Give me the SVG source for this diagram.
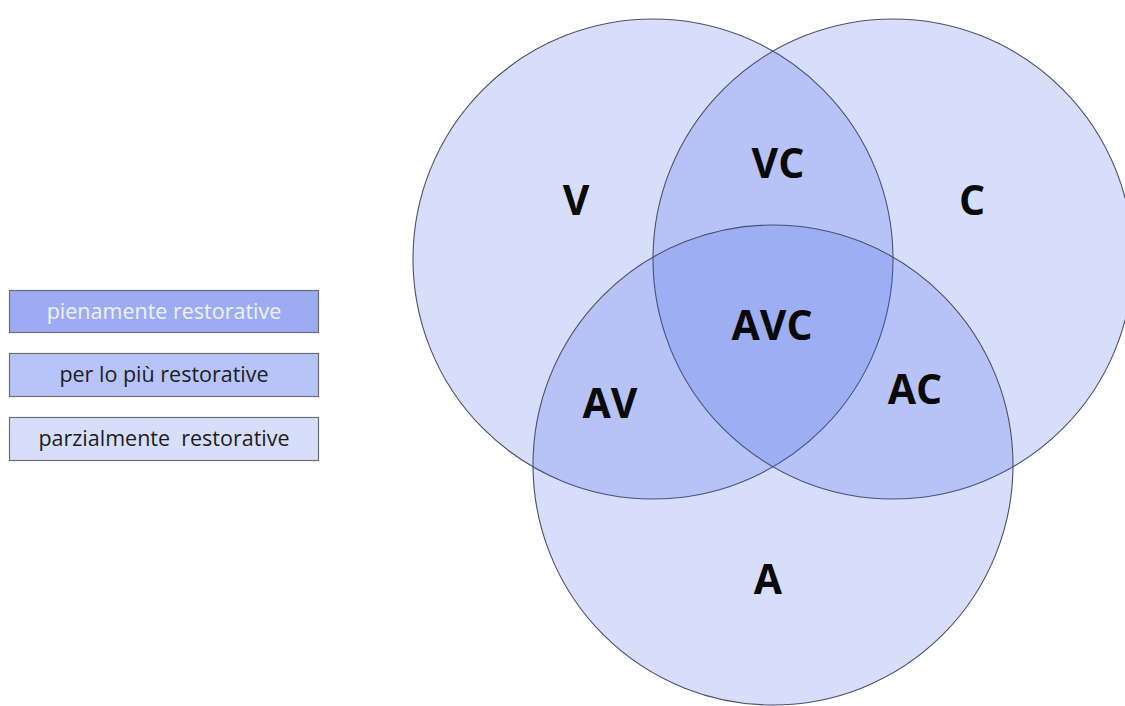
<svg xmlns="http://www.w3.org/2000/svg" width="1125" height="706" viewBox="0 0 1125 706">
  <style>
    .set { fill: #375ae6; fill-opacity: 0.2; stroke: #4a5068; stroke-width: 1.1; }
    .lbl { font-family: "Open Sans", "DejaVu Sans", sans-serif; font-weight: bold; font-size: 41px; fill: #0a0a0a; text-anchor: middle; }
    .key rect { stroke: #6a6d78; stroke-width: 1.2; }
    .key text { font-family: "Open Sans", "DejaVu Sans", sans-serif; font-size: 21.5px; text-anchor: middle; white-space: pre; }
  </style>
  <rect width="1125" height="706" fill="#ffffff"/>

  <!-- legend: shade levels -->
  <g id="legend-full" class="key">
    <rect x="9.5" y="290.5" width="309" height="42" fill="#9dabf3"/>
    <text x="164" y="319" fill="#eef2ff">pienamente restorative</text>
  </g>
  <g id="legend-mostly" class="key">
    <rect x="9.5" y="353.5" width="309" height="43" fill="#b7c4f7"/>
    <text x="164" y="382" fill="#1c1c24">per lo più restorative</text>
  </g>
  <g id="legend-partial" class="key">
    <rect x="9.5" y="417.5" width="309" height="43" fill="#d7defa"/>
    <text x="164" y="446" fill="#1c1c24" xml:space="preserve">parzialmente  restorative</text>
  </g>

  <!-- three overlapping sets -->
  <g id="set-V"><circle class="set" cx="653" cy="259" r="240"/></g>
  <g id="set-C"><circle class="set" cx="893" cy="259" r="240"/></g>
  <g id="set-A"><circle class="set" cx="773" cy="465" r="240"/></g>

  <!-- region labels -->
  <g id="labels">
    <text class="lbl" x="576" y="215">V</text>
    <text class="lbl" x="778" y="178">VC</text>
    <text class="lbl" x="972" y="215">C</text>
    <text class="lbl" x="772" y="340">AVC</text>
    <text class="lbl" x="610" y="418">AV</text>
    <text class="lbl" x="915" y="404">AC</text>
    <text class="lbl" x="768" y="594">A</text>
  </g>
</svg>
